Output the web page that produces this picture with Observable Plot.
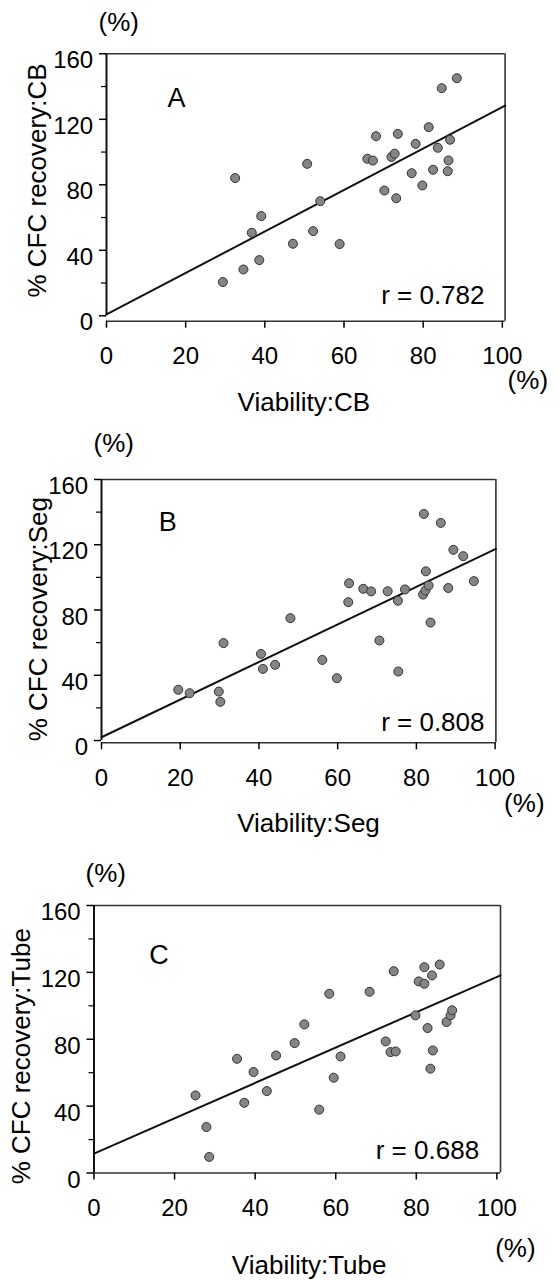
<!DOCTYPE html>
<html>
<head>
<meta charset="utf-8">
<script src="https://cdn.jsdelivr.net/npm/d3@7"></script>
<script src="https://cdn.jsdelivr.net/npm/@observablehq/plot@0.6"></script>
<style>
  body { margin: 0; background: #fff; }
  #wrap { position: relative; width: 559px; height: 1282px; overflow: hidden; background: #fff; }
  #wrap svg { position: absolute; left: 0; }
</style>
</head>
<body>
<div id="wrap"></div>
<script>
// ---- tick labels ----
const xTicks = [0, 20, 40, 60, 80, 100];
const yMajorTicks = [0, 40, 80, 120, 160];
const yMinorTicks = [20, 60, 100, 140];

// ---- panel A: CB ----
const viabilityCB = [29.4, 34.6, 38.6, 36.7, 39.1, 32.5, 47.1, 52.2, 50.7, 54.0, 58.9, 65.9, 67.3, 68.1, 70.2, 73.2, 72.0, 72.8, 73.6, 77.1, 78.1, 79.8, 81.4, 82.5, 83.7, 84.7, 86.8, 86.4, 86.2, 88.5];
const recoveryCB  = [20.6, 28.3, 34.0, 50.7, 60.9, 84.1, 44.0, 51.7, 92.8, 70.0, 43.8, 95.9, 94.8, 109.7, 76.5, 71.8, 97.0, 99.0, 111.1, 87.1, 105.0, 79.6, 115.2, 89.2, 102.6, 139.0, 107.5, 94.9, 88.3, 145.1];

// ---- panel B: Seg ----
const viabilitySeg = [19.5, 22.4, 29.8, 30.2, 31.0, 40.5, 41.0, 44.1, 48.0, 56.1, 59.8, 62.9, 62.7, 66.5, 68.5, 70.6, 72.7, 75.3, 75.4, 77.1, 81.9, 82.4, 81.7, 82.3, 83.1, 83.6, 86.2, 88.1, 89.4, 91.9, 94.6];
const recoverySeg  = [31.1, 29.0, 30.0, 23.7, 59.7, 53.1, 43.9, 46.4, 75.0, 49.4, 38.2, 96.4, 84.8, 93.0, 91.4, 61.3, 91.5, 85.7, 42.3, 92.6, 138.9, 103.7, 89.5, 92.0, 95.0, 72.3, 133.4, 93.5, 116.9, 113.0, 97.7];

// ---- panel C: Tube ----
const viabilityTube = [25.2, 27.9, 28.6, 35.5, 37.3, 39.6, 42.9, 45.2, 49.8, 52.2, 55.9, 58.4, 59.5, 61.2, 68.4, 72.4, 73.6, 74.9, 74.4, 79.8, 80.6, 82.0, 82.0, 83.9, 85.8, 82.8, 84.1, 83.5, 87.5, 88.5, 88.9];
const recoveryTube  = [46.4, 27.5, 9.6, 68.3, 42.0, 60.4, 49.0, 70.3, 77.7, 88.9, 37.9, 107.2, 57.0, 69.7, 108.4, 78.7, 72.3, 72.7, 120.7, 94.3, 114.6, 113.2, 123.1, 118.2, 124.7, 86.7, 73.3, 62.4, 90.3, 94.3, 97.3];

// ---- fitted lines and labels ----
const panelLetters = ["A", "B", "C"];
const rLabels = ["r = 0.782", "r = 0.808", "r = 0.688"];
const fitIntercepts = [0.8, 2.0, 11.6];
const fitSlopes = [1.267, 1.153, 1.057];
const xTitles = ["Viability:CB", "Viability:Seg", "Viability:Tube"];
const yTitles = ["% CFC recovery:CB", "% CFC recovery:Seg", "% CFC recovery:Tube"];
const unitLabel = "(%)";

const seriesX = [viabilityCB, viabilitySeg, viabilityTube];
const seriesY = [recoveryCB, recoverySeg, recoveryTube];

// ---- layout (pixels / axis extents only) ----
const layout = [
  {top: 0,   height: 425, mL: 106,  mR: 54.4, mT: 53.3, mB: 104.3, xMax: 100.7, yMin: -3.3,
   unitTop: [-8, -31.6], letter: [70, 45], r: [-20.6, -25.7], unitRight: [2.5, 59.3], xTitle: [-2, 81], yTitle: [-79.3, -7]},
  {top: 425, height: 423, mL: 101,  mR: 63.6, mT: 54,   mB: 105.7, xMax: 100.2, yMin: -1.4,
   unitTop: [-8, -35.7], letter: [66.3, 42.7], r: [-11.4, -20.6], unitRight: [8.2, 61], xTitle: [9.8, 81], yTitle: [-72.5, 8]},
  {top: 848, height: 434, mL: 93.5, mR: 59,   mT: 57,   mB: 109.5, xMax: 100.9, yMin: 0,
   unitTop: [-8.5, -31.7], letter: [64.9, 50], r: [-21.4, -22.5], unitRight: [-5.3, 75.8], xTitle: [11.9, 92.5], yTitle: [-82.8, 17]}
];

const wrap = document.getElementById("wrap");
const yMax = d3.max(yMajorTicks);
const FONT = "'Liberation Sans', Arial, Helvetica, sans-serif";

layout.forEach((L, i) => {
  const pts = seriesX[i].map((x, j) => ({x, y: seriesY[i][j]}));
  const b = fitIntercepts[i], m = fitSlopes[i];
  const fitXs = [0, L.xMax];
  const patId = `dotfill${i}`;

  const plot = Plot.plot({
    width: 559,
    height: L.height,
    marginLeft: L.mL, marginRight: L.mR, marginTop: L.mT, marginBottom: L.mB,
    style: {fontFamily: FONT, fontSize: "24px", background: "transparent", color: "#000", overflow: "visible"},
    x: {domain: [0, L.xMax], axis: null},
    y: {domain: [L.yMin, yMax], axis: null},
    marks: [
      // frame lines
      Plot.ruleY([yMax], {x1: 0, x2: L.xMax, stroke: "#333", strokeWidth: 1.6}),
      Plot.ruleX([L.xMax], {y1: L.yMin, y2: yMax, stroke: "#333", strokeWidth: 1.6}),
      Plot.ruleY([L.yMin], {x1: 0, x2: L.xMax, stroke: "#333", strokeWidth: 1.6}),
      Plot.ruleX([0], {y1: 0, y2: yMax, stroke: "#111", strokeWidth: 2}),
      // regression line
      Plot.line(fitXs, {x: d => d, y: d => b + m * d, stroke: "#111", strokeWidth: 2}),
      // points
      Plot.dot(pts, {x: "x", y: "y", r: 4.5, fill: `url(#${patId})`, stroke: "#333", strokeWidth: 1}),
      // axes
      Plot.axisX(xTicks, {anchor: "bottom", tickSize: 7, tickPadding: 19, fontSize: 24, label: null, strokeWidth: 1.5}),
      Plot.axisY(yMajorTicks, {anchor: "left", tickSize: 7, fill: "none", label: null, strokeWidth: 1.5}),
      Plot.axisY(yMinorTicks, {anchor: "left", tickSize: 5, fill: "none", label: null, strokeWidth: 1.2}),
      Plot.axisY(yMajorTicks, {anchor: "left", tickSize: 0, tickPadding: 13.3, dy: 7, fontSize: 24, label: null}),
      // annotations
      Plot.text([unitLabel], {frameAnchor: "top-left", textAnchor: "start", lineAnchor: "middle", dx: L.unitTop[0], dy: L.unitTop[1], fontSize: 26}),
      Plot.text([panelLetters[i]], {frameAnchor: "top-left", textAnchor: "middle", lineAnchor: "middle", dx: L.letter[0], dy: L.letter[1], fontSize: 27}),
      Plot.text([rLabels[i]], {frameAnchor: "bottom-right", textAnchor: "end", lineAnchor: "middle", dx: L.r[0], dy: L.r[1], fontSize: 26}),
      Plot.text([unitLabel], {frameAnchor: "bottom-right", textAnchor: "start", lineAnchor: "middle", dx: L.unitRight[0], dy: L.unitRight[1], fontSize: 26}),
      Plot.text([xTitles[i]], {frameAnchor: "bottom", textAnchor: "middle", lineAnchor: "middle", dx: L.xTitle[0], dy: L.xTitle[1], fontSize: 26}),
      Plot.text([yTitles[i]], {frameAnchor: "left", rotate: -90, textAnchor: "middle", lineAnchor: "top", dx: L.yTitle[0], dy: L.yTitle[1], fontSize: 26})
    ]
  });

  const defs = document.createElementNS("http://www.w3.org/2000/svg", "defs");
  defs.innerHTML = `<pattern id="${patId}" width="2" height="2" patternUnits="userSpaceOnUse">
      <rect width="2" height="2" fill="#e8e8e8"/>
      <rect width="1" height="1" fill="#222"/>
      <rect x="1" y="1" width="1" height="1" fill="#222"/>
    </pattern>`;
  plot.insertBefore(defs, plot.firstChild);
  plot.style.top = L.top + "px";
  wrap.appendChild(plot);
});
</script>
</body>
</html>
